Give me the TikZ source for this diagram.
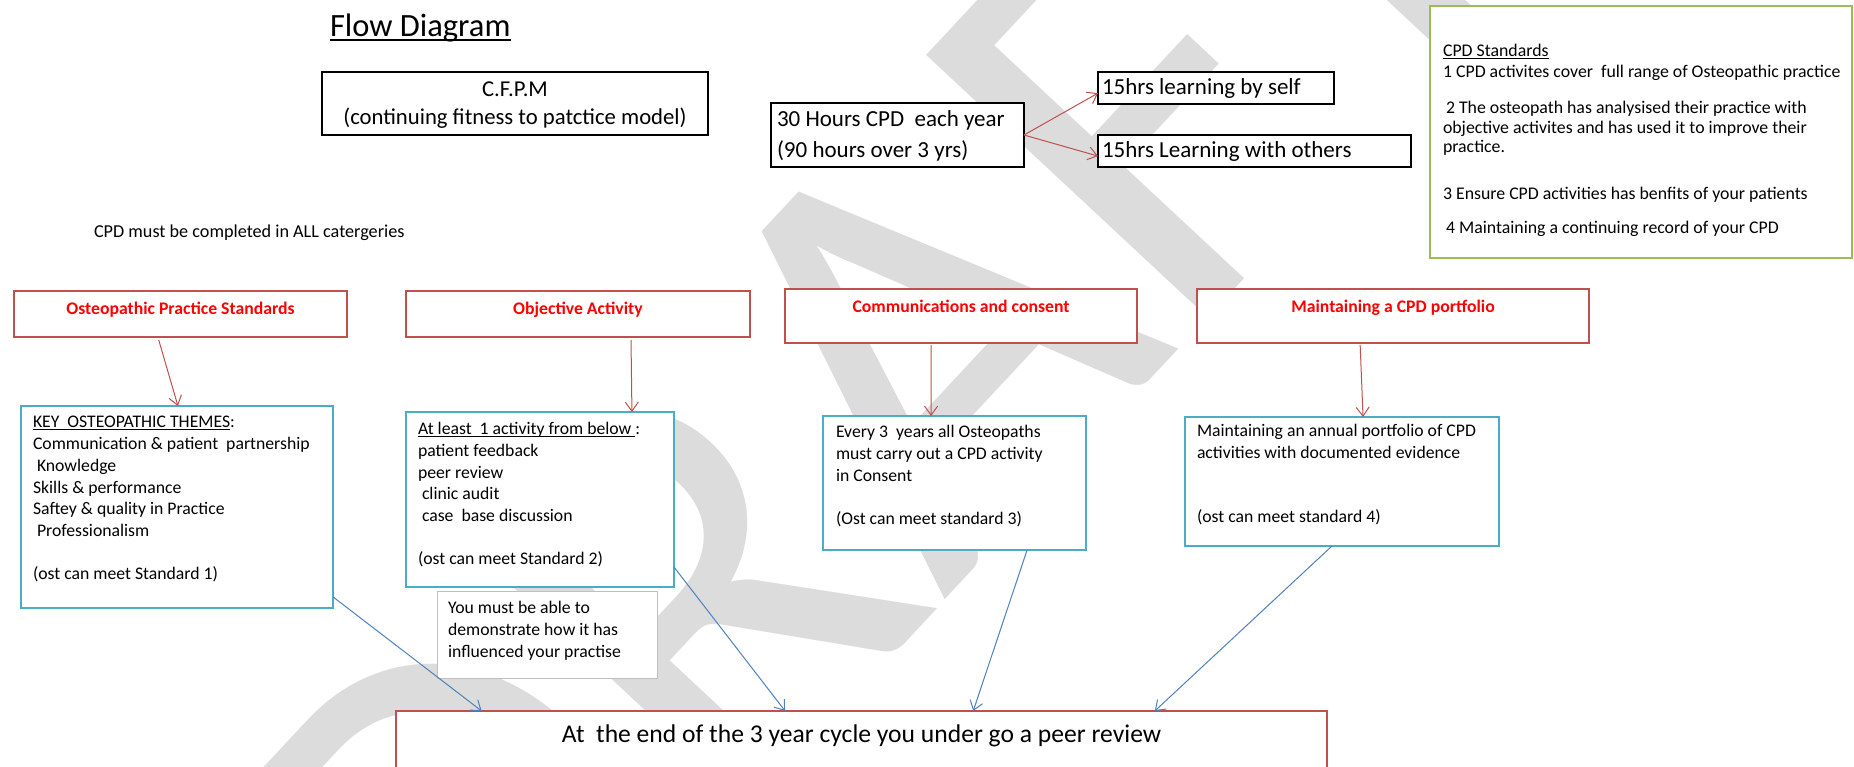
\documentclass[tikz,border=0pt]{standalone}
\usepackage{fontspec}
\setmainfont{Carlito}
\usetikzlibrary{arrows.meta,calc}
\definecolor{redbd}{HTML}{C0504D}
\definecolor{bluebd}{HTML}{4BACC6}
\definecolor{greenbd}{HTML}{9BBB59}
\definecolor{linkblue}{HTML}{4F81BD}
\definecolor{wmgray}{HTML}{DCDCDC}
\definecolor{notegray}{HTML}{BFBFBF}
\newsavebox\ulbox
\newcommand{\ulx}[1]{\sbox\ulbox{#1}\rlap{\rule[-0.13em]{\wd\ulbox}{0.065em}}\usebox\ulbox}
\newcommand{\fs}[2]{\fontsize{#1}{#2}\selectfont}
% centred text box: width, height, top pad, content
\newcommand{\ct}[4]{\parbox[b][#2][t]{#1}{\centering\vspace*{#3}\strut#4\par}}
% left text box: width, height, left pad, top pad, content
\newcommand{\bt}[5]{\parbox[b][#2][t]{#1}{\raggedright\leftskip=#3\relax\rightskip=-200pt plus 1fil\relax\vspace*{#4}\strut#5\par}}
\tikzset{
  redbox/.style={draw=redbd, line width=2.7pt, fill=white, inner sep=0pt},
  bluebox/.style={draw=bluebd, line width=2.7pt, fill=white, inner sep=0pt},
  blackbox/.style={draw=black, line width=2pt, fill=white, inner sep=0pt},
  greenbox/.style={draw=greenbd, line width=2.7pt, fill=white, inner sep=0pt},
  notebox/.style={draw=notegray, line width=1pt, fill=white, inner sep=0pt},
  redarrow/.style={draw=redbd, line width=1pt, -{Straight Barb[length=9pt,width=13pt]}},
  bluearrow/.style={draw=linkblue, line width=1pt, -{Straight Barb[length=9pt,width=13pt]}},
}
\begin{document}
\begin{tikzpicture}[x=1pt,y=-1pt, every node/.style={inner sep=0pt, outer sep=0pt}]
\useasboundingbox (0,0) rectangle (1854,767);
\clip (0,0) rectangle (1854,767);
\fill[white] (0,0) rectangle (1854,767);
% watermark
\node[rotate=47, anchor=base west, text=wmgray, font=\fs{600pt}{600pt}] (wm) at (470,1110) {DRAFT};

% title and free text
\node[anchor=base west, font=\fs{32.5}{38}] (title) at (330,37) {\ulx{Flow Diagram}};
\node[anchor=base west, font=\fs{18.2}{21}] (must) at (94,238) {CPD must be completed in ALL catergeries};

% top boxes
\node[blackbox, anchor=north west, font=\fs{22.7}{28}] (cfpm) at (322,72) {\ct{386pt}{63pt}{5.4pt}{C.F.P.M\\(continuing fitness to patctice model)}};
\node[blackbox, anchor=north west, font=\fs{23}{31}] (hours) at (771,103) {\bt{253pt}{64pt}{6pt}{2.3pt}{30 Hours CPD\ \ each year\\(90 hours over 3 yrs)}};
\node[blackbox, anchor=north west, font=\fs{23}{27}] (self) at (1098,72) {\bt{236pt}{32pt}{4pt}{4pt}{15hrs learning by self}};
\node[blackbox, anchor=north west, font=\fs{23}{27}] (others) at (1098,135) {\bt{313pt}{32pt}{4pt}{4pt}{15hrs Learning with others}};

\node[greenbox, anchor=north west, font=\fs{17.8}{19.5}] (std) at (1430,6) {\bt{422pt}{252pt}{13pt}{37.3pt}{\ulx{CPD Standards}\\[1.5pt]1 CPD activites cover\ \ full range of Osteopathic practice\\[16.5pt]\hspace*{3pt}2 The osteopath has analysised their practice with\\objective activites and has used it to improve their\\practice.\\[27.5pt]3 Ensure CPD activities has benfits of your patients\\[14.5pt]\hspace*{3pt}4 Maintaining a continuing record of your CPD}};

% category headers
\node[redbox, anchor=north west, font=\bfseries\fs{17.7}{19}, text=red] (osteo) at (14,291) {\ct{333pt}{46pt}{9.7pt}{Osteopathic Practice Standards}};
\node[redbox, anchor=north west, font=\bfseries\fs{17.7}{19}, text=red] (objective) at (406,291) {\ct{344pt}{46pt}{9.7pt}{Objective Activity}};
\node[redbox, anchor=north west, font=\bfseries\fs{17.7}{19}, text=red] (comms) at (785,289) {\ct{352pt}{54pt}{9.7pt}{Communications and consent}};
\node[redbox, anchor=north west, font=\bfseries\fs{17.7}{19}, text=red] (maint) at (1197,289) {\ct{392pt}{54pt}{9.7pt}{Maintaining a CPD portfolio}};

% detail boxes
\node[bluebox, anchor=north west, font=\fs{17.7}{21.7}] (key) at (21,406) {\bt{312pt}{202pt}{12pt}{6.8pt}{\ulx{KEY\ \ OSTEOPATHIC THEMES}:\\Communication \& patient\ \ partnership\\\hspace*{4pt}Knowledge\\Skills \& performance\\Saftey \& quality in Practice\\\hspace*{4pt}Professionalism\\[21.7pt](ost can meet Standard 1)}};
\node[bluebox, anchor=north west, font=\fs{17.7}{21.6}] (least) at (406,412) {\bt{268pt}{175pt}{12pt}{7.8pt}{\ulx{At least\ \ 1 activity from below\ }:\\patient feedback\\peer review\\\hspace*{4pt}clinic audit\\\hspace*{4pt}case\ \ base discussion\\[21.6pt](ost can meet Standard 2)}};
\node[notebox, anchor=north west, font=\fs{17.7}{22}] (note) at (437,591) {\bt{220pt}{87pt}{11pt}{6.6pt}{You must be able to\\demonstrate how it has\\influenced your practise}};
\node[bluebox, anchor=north west, font=\fs{17.7}{21.7}] (every) at (823,416) {\bt{263pt}{134pt}{13pt}{6.8pt}{Every 3\ \ years all Osteopaths\\must carry out a CPD activity\\in Consent\\[21.7pt](Ost can meet standard 3)}};
\node[bluebox, anchor=north west, font=\fs{17.7}{21.5}] (maintb) at (1185,417) {\bt{314pt}{129pt}{12pt}{4.9pt}{Maintaining an annual portfolio of CPD\\activities with documented evidence\\[43pt](ost can meet standard 4)}};

% final box
\node[redbox, anchor=north west, font=\fs{25.6}{30}] (final) at (396,711) {\ct{931pt}{90pt}{10pt}{At\ \ the end of the 3 year cycle you under go a peer review}};

% connectors
\draw[redarrow] (hours.east) -- ($(self.north west)!0.66!(self.south west)$);
\draw[redarrow] (hours.east) -- ($(others.north west)!0.66!(others.south west)$);
\draw[redarrow, shorten <=3pt] ($(osteo.south west)!0.432!(osteo.south east)$) -- ($(key.north west)!0.503!(key.north east)$);
\draw[redarrow, shorten <=3pt] ($(objective.south west)!0.654!(objective.south east)$) -- ($(least.north west)!0.843!(least.north east)$);
\draw[redarrow, shorten <=2pt] ($(comms.south west)!0.415!(comms.south east)$) -- ($(every.north west)!0.411!(every.north east)$);
\draw[redarrow, shorten <=2pt] ($(maint.south west)!0.416!(maint.south east)$) -- ($(maintb.north west)!0.567!(maintb.north east)$);

\draw[bluearrow] ($(key.north east)!0.945!(key.south east)$) -- ($(final.north west)!0.092!(final.north east)$);
\draw[bluearrow] ($(least.north east)!0.886!(least.south east)$) -- ($(final.north west)!0.418!(final.north east)$);
\draw[bluearrow] ($(every.south west)!0.776!(every.south east)$) -- ($(final.north west)!0.62!(final.north east)$);
\draw[bluearrow] ($(maintb.south west)!0.468!(maintb.south east)$) -- ($(final.north west)!0.815!(final.north east)$);
\end{tikzpicture}
\end{document}
